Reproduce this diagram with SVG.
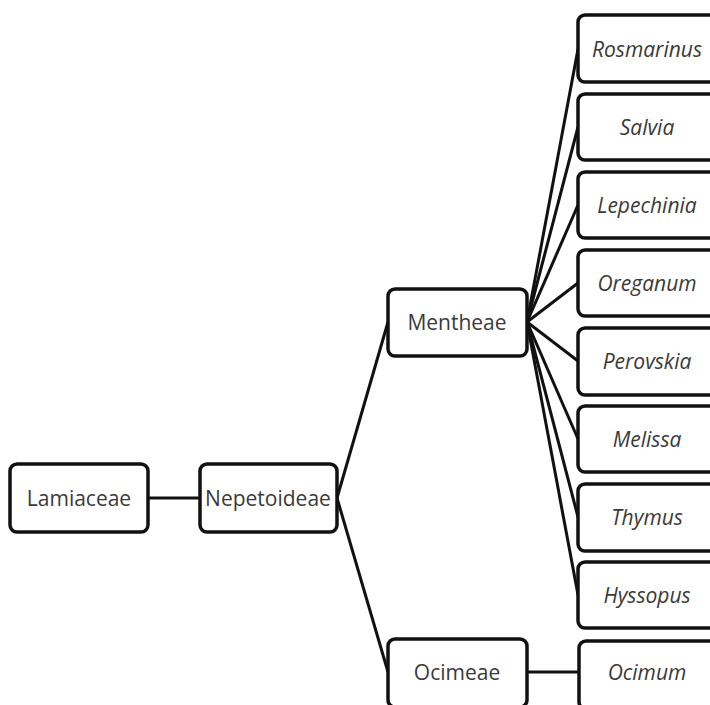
<svg xmlns="http://www.w3.org/2000/svg" width="710" height="705" viewBox="0 0 710 705">
<style>
.box{fill:#fff;stroke:#111;stroke-width:3.5}
.t{font-family:"Open Sans","DejaVu Sans",sans-serif;font-size:21px;fill:#3a3a3a;text-anchor:middle;dominant-baseline:central}
.i{font-style:italic}
.c{stroke:#111;stroke-width:3;fill:none}
</style>
<rect width="710" height="705" fill="#fff"/>
<g id="connectors">
<line class="c" x1="148" y1="498" x2="200" y2="498"/>
<line class="c" x1="337" y1="498" x2="388" y2="322"/>
<line class="c" x1="337" y1="498" x2="388" y2="672"/>
<line class="c" x1="527" y1="672" x2="579" y2="672"/>
<line class="c" x1="527" y1="322" x2="578" y2="49"/>
<line class="c" x1="527" y1="322" x2="578" y2="127"/>
<line class="c" x1="527" y1="322" x2="578" y2="205"/>
<line class="c" x1="527" y1="322" x2="578" y2="283"/>
<line class="c" x1="527" y1="322" x2="578" y2="361"/>
<line class="c" x1="527" y1="322" x2="578" y2="439"/>
<line class="c" x1="527" y1="322" x2="578" y2="517"/>
<line class="c" x1="527" y1="322" x2="578" y2="595"/>
</g>
<g id="lamiaceae"><rect class="box" x="10" y="464" width="138" height="68" rx="7"/><text class="t" x="79" y="498">Lamiaceae</text></g>
<g id="nepetoideae"><rect class="box" x="200" y="464" width="137" height="68" rx="7"/><text class="t" x="268" y="498">Nepetoideae</text></g>
<g id="mentheae"><rect class="box" x="388" y="289" width="139" height="67" rx="7"/><text class="t" x="457" y="322">Mentheae</text></g>
<g id="ocimeae"><rect class="box" x="388" y="639" width="139" height="68" rx="7"/><text class="t" x="457" y="672">Ocimeae</text></g>
<g id="rosmarinus"><rect class="box" x="578" y="15" width="140" height="67" rx="7"/><text class="t i" x="647" y="49">Rosmarinus</text></g>
<g id="salvia"><rect class="box" x="578" y="94" width="140" height="66" rx="7"/><text class="t i" x="647" y="127">Salvia</text></g>
<g id="lepechinia"><rect class="box" x="578" y="172" width="140" height="66" rx="7"/><text class="t i" x="647" y="205">Lepechinia</text></g>
<g id="oreganum"><rect class="box" x="578" y="250" width="140" height="66" rx="7"/><text class="t i" x="647" y="283">Oreganum</text></g>
<g id="perovskia"><rect class="box" x="578" y="328" width="140" height="67" rx="7"/><text class="t i" x="647" y="361">Perovskia</text></g>
<g id="melissa"><rect class="box" x="578" y="406" width="140" height="66" rx="7"/><text class="t i" x="647" y="439">Melissa</text></g>
<g id="thymus"><rect class="box" x="578" y="484" width="140" height="67" rx="7"/><text class="t i" x="647" y="517">Thymus</text></g>
<g id="hyssopus"><rect class="box" x="578" y="562" width="140" height="66" rx="7"/><text class="t i" x="647" y="595">Hyssopus</text></g>
<g id="ocimum"><rect class="box" x="579" y="641" width="140" height="68" rx="7"/><text class="t i" x="647" y="672">Ocimum</text></g>
</svg>
